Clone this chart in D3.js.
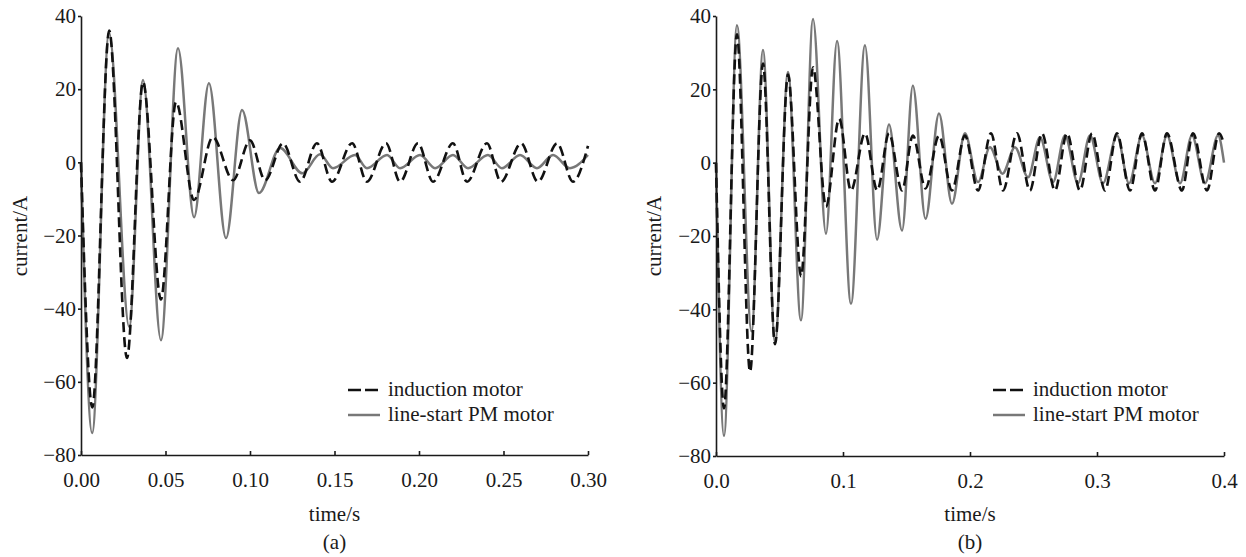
<!DOCTYPE html>
<html lang="en">
<head>
<meta charset="utf-8">
<script src="https://cdn.jsdelivr.net/npm/d3@7"></script>
<style>
  body { margin: 0; background: #fff; }
  svg text { font-family: "Liberation Serif", "Times New Roman", serif; fill: #1a1a1a; }
</style>
</head>
<body>
<script>
// peaks, troughs and ends: [time/s, current/A]
var inductionA = [
  [0, 0], [0.0067, -67], [0.0167, 36], [0.0272, -53.5], [0.0367, 22],
  [0.0473, -37.5], [0.0562, 16.5], [0.0669, -10.3], [0.078, 6.9], [0.090, -4.9],
  [0.100, 6], [0.109, -4.9], [0.1195, 5.2], [0.1296, -5.3], [0.1396, 5.2],
  [0.1485, -5.3], [0.1604, 5.2], [0.1692, -5.3], [0.1805, 5.2], [0.1888, -5.3],
  [0.1994, 5.2], [0.2083, -5.3], [0.2201, 5.2], [0.2284, -5.3], [0.2402, 5.2],
  [0.2485, -5.3], [0.2604, 5.2], [0.2704, -5.3], [0.2817, 5.2], [0.2911, -5.3],
  [0.30, 4.5]
];
var pmA = [
  [0, 0], [0.0066, -74], [0.0166, 35.5], [0.0285, -45], [0.0367, 22.5],
  [0.0473, -48.6], [0.0574, 31.2], [0.0669, -15], [0.0757, 21.6], [0.0858, -20.7],
  [0.0953, 14.3], [0.1053, -8.4], [0.1178, 3.9], [0.131, -3], [0.1414, 2.2],
  [0.1491, -1.6], [0.1621, 2], [0.1692, -1.6], [0.1811, 2], [0.1888, -1.6],
  [0.2006, 2], [0.2095, -1.6], [0.2201, 2], [0.2290, -1.6], [0.2408, 2],
  [0.2491, -1.6], [0.2598, 2], [0.2698, -1.6], [0.2793, 2], [0.2893, -1.6],
  [0.30, 2]
];
var inductionB = [
  [0, 0], [0.0063, -67], [0.0165, 35], [0.0268, -57], [0.037, 27],
  [0.0465, -49.5], [0.0567, 24], [0.067, -31], [0.0764, 26], [0.0866, -12],
  [0.097, 12], [0.1063, -7.6], [0.1173, 8], [0.127, -7.6], [0.1362, 8],
  [0.1465, -7.6], [0.155, 7.4], [0.165, -7], [0.1756, 7.4], [0.1858, -7.6],
  [0.196, 7.4], [0.2063, -7.6], [0.2165, 8], [0.226, -7.6], [0.237, 8],
  [0.2472, -7.6], [0.2567, 8], [0.2669, -7.6], [0.2764, 8], [0.2866, -7.6],
  [0.2961, 8], [0.3063, -7.6], [0.3157, 8], [0.326, -7.6], [0.3354, 8],
  [0.3457, -7.6], [0.3551, 8], [0.3669, -7.6], [0.3756, 8], [0.3866, -7.6],
  [0.3961, 8], [0.40, 5]
];
var pmB = [
  [0, 0], [0.0063, -74.5], [0.0165, 37.5], [0.028, -46], [0.037, 30.7],
  [0.0465, -49], [0.0567, 24.7], [0.0669, -43], [0.0764, 39.2], [0.0866, -19.4],
  [0.0953, 33.2], [0.1063, -38.5], [0.1173, 32], [0.1268, -21], [0.1362, 10.4],
  [0.1465, -18.5], [0.155, 21], [0.165, -15.3], [0.1756, 13.4], [0.1858, -11.2],
  [0.196, 8], [0.2063, -5.3], [0.2157, 4.2], [0.2256, -3], [0.2354, 4.2],
  [0.2457, -4], [0.2551, 6.9], [0.2654, -5.3], [0.2748, 7.4], [0.285, -5.6],
  [0.2945, 7.4], [0.3047, -5.6], [0.3157, 7.4], [0.3252, -5.6], [0.3354, 7.4],
  [0.3457, -5.6], [0.3551, 7.4], [0.3654, -5.6], [0.3748, 7.4], [0.385, -5.6],
  [0.3953, 7.4], [0.40, 0]
];

var currentTicks = [40, 20, 0, -20, -40, -60, -80];
var timeTicksA = [0, 0.05, 0.10, 0.15, 0.20, 0.25, 0.30];
var timeTicksB = [0, 0.1, 0.2, 0.3, 0.4];
var seriesNames = ["induction motor", "line-start PM motor"];

var svg = d3.select("body").append("svg")
    .attr("width", 1246)
    .attr("height", 557);

function panel(opt) {
  var x = d3.scaleLinear().domain([0, opt.tmax]).range([opt.left, opt.right]);
  var y = d3.scaleLinear().domain([-80, 40]).range([opt.bottom, 16]);
  var g = svg.append("g");

  var line = d3.line()
      .x(function(d) { return x(d[0]); })
      .y(function(d) { return y(d[1]); })
      .curve(d3.curveMonotoneX);

  g.append("path")
      .attr("d", line(opt.pm))
      .attr("fill", "none")
      .attr("stroke", "#787878")
      .attr("stroke-width", 2.5);

  g.append("path")
      .attr("d", line(opt.im))
      .attr("fill", "none")
      .attr("stroke", "#111")
      .attr("stroke-width", 2.6)
      .attr("stroke-dasharray", "10,5");

  var xAxis = g.append("g")
      .attr("transform", "translate(0," + opt.bottom + ")")
      .call(d3.axisBottom(x).tickValues(opt.ticks).tickFormat(d3.format(opt.fmt))
        .tickSizeInner(-4).tickSizeOuter(0).tickPadding(17));

  var yAxis = g.append("g")
      .attr("transform", "translate(" + opt.left + ",0)")
      .call(d3.axisLeft(y).tickValues(currentTicks)
        .tickSizeInner(3).tickSizeOuter(0).tickPadding(2));

  [xAxis, yAxis].forEach(function(a) {
    a.attr("font-size", 21).attr("font-family", null);
    a.select(".domain").attr("stroke", "#1a1a1a").attr("stroke-width", 1.6);
    a.selectAll(".tick line").attr("stroke", "#1a1a1a").attr("stroke-width", 1.6);
    a.selectAll(".tick text").attr("fill", "#1a1a1a");
  });

  var mid = (opt.left + opt.right) / 2;
  g.append("text")
      .attr("x", mid).attr("y", 521)
      .attr("text-anchor", "middle")
      .attr("font-size", 21)
      .text("time/s");
  g.append("text")
      .attr("x", mid).attr("y", 549)
      .attr("text-anchor", "middle")
      .attr("font-size", 21)
      .text(opt.label);
  g.append("text")
      .attr("transform", "translate(" + opt.ylabX + ",236) rotate(-90)")
      .attr("text-anchor", "middle")
      .attr("font-size", 21)
      .text("current/A");

  // legend
  var lg = g.append("g").attr("transform", "translate(" + opt.legX + ",0)");
  lg.append("line")
      .attr("x1", 0).attr("x2", 32).attr("y1", 390).attr("y2", 390)
      .attr("stroke", "#111").attr("stroke-width", 2.6)
      .attr("stroke-dasharray", "13,4");
  lg.append("line")
      .attr("x1", 0).attr("x2", 32).attr("y1", 415).attr("y2", 415)
      .attr("stroke", "#787878").attr("stroke-width", 2.5);
  lg.selectAll("text.leg")
      .data(seriesNames)
      .enter().append("text")
      .attr("class", "leg")
      .attr("x", 40)
      .attr("y", function(d, i) { return 396 + i * 25; })
      .attr("font-size", 21)
      .text(function(d) { return d; });
}

panel({ im: inductionA, pm: pmA, tmax: 0.30, ticks: timeTicksA, fmt: ".2f",
        left: 81, right: 588, bottom: 455, label: "(a)", ylabX: 27, legX: 348 });
panel({ im: inductionB, pm: pmB, tmax: 0.4, ticks: timeTicksB, fmt: ".1f",
        left: 716, right: 1224, bottom: 456, label: "(b)", ylabX: 661, legX: 993 });
</script>
</body>
</html>
